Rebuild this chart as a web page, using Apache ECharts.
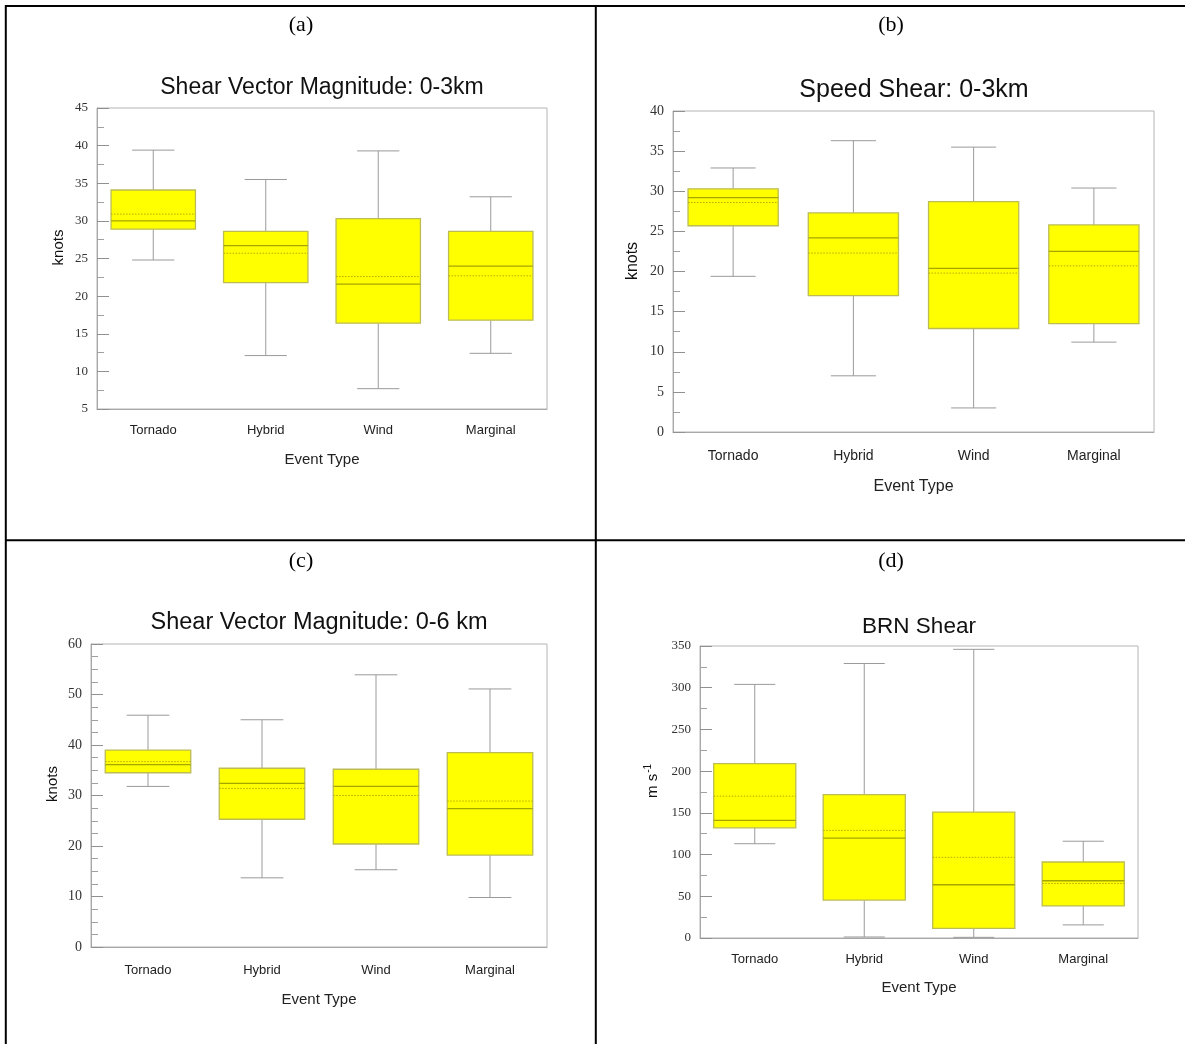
<!DOCTYPE html>
<html>
<head>
<meta charset="utf-8">
<script src="https://cdn.jsdelivr.net/npm/echarts@6/dist/echarts.min.js"></script>
<style>
  html, body { margin: 0; padding: 0; background: #ffffff; }
  #chart { width: 1185px; height: 1044px; }
</style>
</head>
<body>
<div id="chart"></div>
<script>
// Event categories shared by all four panels
const categories = ['Tornado', 'Hybrid', 'Wind', 'Marginal'];

// Box statistics per category: [min, q1, median, q3, max]
const svm3Stats = [
  [24.8, 28.9, 30.0, 34.1, 39.4],
  [12.1, 21.8, 26.7, 28.6, 35.5],
  [7.7, 16.4, 21.6, 30.3, 39.3],
  [12.4, 16.8, 24.0, 28.6, 33.2]
];
const svm3Mean = [30.9, 25.7, 22.6, 22.7];

const speed3Stats = [
  [19.4, 25.7, 29.2, 30.3, 32.9],
  [7.0, 17.0, 24.2, 27.3, 36.3],
  [3.0, 12.9, 20.4, 28.7, 35.5],
  [11.2, 13.5, 22.5, 25.8, 30.4]
];
const speed3Mean = [28.6, 22.3, 19.8, 20.7];

const svm6Stats = [
  [31.8, 34.5, 36.1, 39.0, 45.9],
  [13.7, 25.3, 32.4, 35.4, 45.0],
  [15.3, 20.4, 31.8, 35.2, 53.9],
  [9.8, 18.2, 27.4, 38.5, 51.1]
];
const svm6Mean = [36.7, 31.4, 30.0, 28.9];

const brnStats = [
  [113, 132, 141, 209, 304],
  [1.2, 45.4, 119.6, 171.8, 329],
  [0.8, 11.6, 63.8, 150.9, 346],
  [15.7, 38.5, 68.6, 91.1, 116]
];
const brnMean = [170, 129, 96.7, 65.4];

// Value-axis ranges: [min, max, interval]
const svm3Range = [5, 45, 5];
const speed3Range = [0, 40, 5];
const svm6Range = [0, 60, 10];
const brnRange = [0, 350, 50];

const SANS = 'Liberation Sans, Arial, sans-serif';
const SERIF = 'Liberation Serif, Times New Roman, serif';

// Draws one box: whiskers with caps, yellow box, solid median, dotted mean
function renderBox(params, api) {
  const i = api.value(0);
  const mn = api.value(1), q1 = api.value(2), md = api.value(3),
        q3 = api.value(4), mx = api.value(5), mean = api.value(6);
  const band = api.size([1, 0])[0];
  const bw = band * 0.75;
  const cw = bw * 0.5;
  const x = api.coord([i, md])[0];
  const y = v => api.coord([i, v])[1];
  const whisker = { stroke: '#9a9a9a', lineWidth: 1 };
  return {
    type: 'group',
    children: [
      { type: 'line', shape: { x1: x, y1: y(q3), x2: x, y2: y(mx) }, style: whisker },
      { type: 'line', shape: { x1: x - cw / 2, y1: y(mx), x2: x + cw / 2, y2: y(mx) }, style: whisker },
      { type: 'line', shape: { x1: x, y1: y(q1), x2: x, y2: y(mn) }, style: whisker },
      { type: 'line', shape: { x1: x - cw / 2, y1: y(mn), x2: x + cw / 2, y2: y(mn) }, style: whisker },
      { type: 'rect', shape: { x: x - bw / 2, y: y(q3), width: bw, height: y(q1) - y(q3) },
        style: { fill: '#ffff00', stroke: '#bcbc55', lineWidth: 1.3 } },
      { type: 'line', shape: { x1: x - bw / 2, y1: y(md), x2: x + bw / 2, y2: y(md) },
        style: { stroke: '#a6a600', lineWidth: 1.3 } },
      { type: 'line', shape: { x1: x - bw / 2, y1: y(mean), x2: x + bw / 2, y2: y(mean) },
        style: { stroke: '#b8a800', lineWidth: 1, lineDash: [1.5, 1.5] } }
    ]
  };
}

const panels = [
  { title: 'Shear Vector Magnitude: 0-3km', letter: '(a)', stats: svm3Stats, mean: svm3Mean, range: svm3Range,
    minorSplit: 2, yName: 'knots', grid: { left: 97, top: 108, width: 450, height: 301 },
    titlePos: [322, 88], letterPos: [301, 25], titleSize: 23, tickSize: 13, catSize: 13, nameSize: 15,
    catMargin: 15, xNameGap: 43, yNameGap: 31, yShift: 22 },
  { title: 'Speed Shear: 0-3km', letter: '(b)', stats: speed3Stats, mean: speed3Mean, range: speed3Range,
    minorSplit: 2, yName: 'knots', grid: { left: 673, top: 111, width: 481, height: 321 },
    titlePos: [914, 90], letterPos: [891, 25], titleSize: 25, tickSize: 14, catSize: 14, nameSize: 16,
    catMargin: 17, xNameGap: 47, yNameGap: 32, yShift: 21 },
  { title: 'Shear Vector Magnitude: 0-6 km', letter: '(c)', stats: svm6Stats, mean: svm6Mean, range: svm6Range,
    minorSplit: 4, yName: 'knots', grid: { left: 91, top: 644, width: 456, height: 303 },
    titlePos: [319, 623], letterPos: [301, 561], titleSize: 23.5, tickSize: 14, catSize: 13, nameSize: 15,
    catMargin: 17, xNameGap: 45, yNameGap: 31, yShift: 23 },
  { title: 'BRN Shear', letter: '(d)', stats: brnStats, mean: brnMean, range: brnRange,
    minorSplit: 2, yName: '{m|m s}{sup|-1}', grid: { left: 700, top: 646, width: 438, height: 292 },
    titlePos: [919, 627], letterPos: [891, 561], titleSize: 22.5, tickSize: 13, catSize: 13, nameSize: 15,
    catMargin: 15, xNameGap: 42, yNameGap: 38, yShift: 22 }
];

const grids = [], xAxes = [], yAxes = [], series = [], graphics = [];

panels.forEach((p, k) => {
  grids.push(Object.assign({ show: true, borderColor: '#b4b4b4', borderWidth: 1, containLabel: false }, p.grid));
  xAxes.push({
    type: 'category', gridIndex: k, data: categories, boundaryGap: true,
    name: 'Event Type', nameLocation: 'middle', nameGap: p.xNameGap,
    nameTextStyle: { fontFamily: SANS, fontSize: p.nameSize, color: '#222' },
    axisLine: { lineStyle: { color: '#a8a8a8', width: 1 } },
    axisTick: { inside: true, length: 12, lineStyle: { color: '#909090' } },
    axisLabel: { fontFamily: SANS, fontSize: p.catSize, color: '#222', margin: p.catMargin },
    splitLine: { show: false }
  });
  yAxes.push({
    type: 'value', gridIndex: k, min: p.range[0], max: p.range[1], interval: p.range[2],
    name: p.yName, nameLocation: 'middle', nameGap: p.yNameGap,
    nameTextStyle: {
      fontFamily: SANS, fontSize: p.nameSize, color: '#111', padding: [0, 0, 0, p.yShift],
      rich: {
        m: { fontFamily: SANS, fontSize: 15, color: '#111' },
        sup: { fontFamily: SANS, fontSize: 10, color: '#111', padding: [0, 0, 9, 1] }
      }
    },
    axisLine: { show: true, lineStyle: { color: '#a8a8a8', width: 1 } },
    axisTick: { show: true, inside: true, length: 12, lineStyle: { color: '#909090' } },
    minorTick: { show: true, splitNumber: p.minorSplit, length: 7, lineStyle: { color: '#a0a0a0' } },
    axisLabel: { fontFamily: SERIF, fontSize: p.tickSize, color: '#333', margin: 9 },
    splitLine: { show: false }
  });
  series.push({
    type: 'custom', xAxisIndex: k, yAxisIndex: k,
    renderItem: renderBox,
    encode: { x: 0, y: [1, 2, 3, 4, 5, 6] },
    data: categories.map((c, i) => [i].concat(p.stats[i], [p.mean[i]])),
    silent: true
  });
  graphics.push({
    type: 'text', x: p.titlePos[0], y: p.titlePos[1],
    style: { text: p.title, fontFamily: SANS, fontSize: p.titleSize, fill: '#111',
             textAlign: 'center', textVerticalAlign: 'middle' }
  });
  graphics.push({
    type: 'text', x: p.letterPos[0], y: p.letterPos[1],
    style: { text: p.letter, fontFamily: SERIF, fontSize: 22, fill: '#000',
             textAlign: 'center', textVerticalAlign: 'middle' }
  });
});

// Table rules separating the four panels
const rule = { stroke: '#000', lineWidth: 2 };
graphics.push(
  { type: 'line', shape: { x1: 5, y1: 6, x2: 1185, y2: 6 }, style: rule },
  { type: 'line', shape: { x1: 5.8, y1: 5, x2: 5.8, y2: 1044 }, style: rule },
  { type: 'line', shape: { x1: 595.8, y1: 5, x2: 595.8, y2: 1044 }, style: rule },
  { type: 'line', shape: { x1: 5, y1: 540.2, x2: 1185, y2: 540.2 }, style: rule }
);

const chart = echarts.init(document.getElementById('chart'), null, { renderer: 'canvas' });
chart.setOption({
  animation: false,
  backgroundColor: '#ffffff',
  grid: grids,
  xAxis: xAxes,
  yAxis: yAxes,
  series: series,
  graphic: { elements: graphics }
});
</script>
</body>
</html>
